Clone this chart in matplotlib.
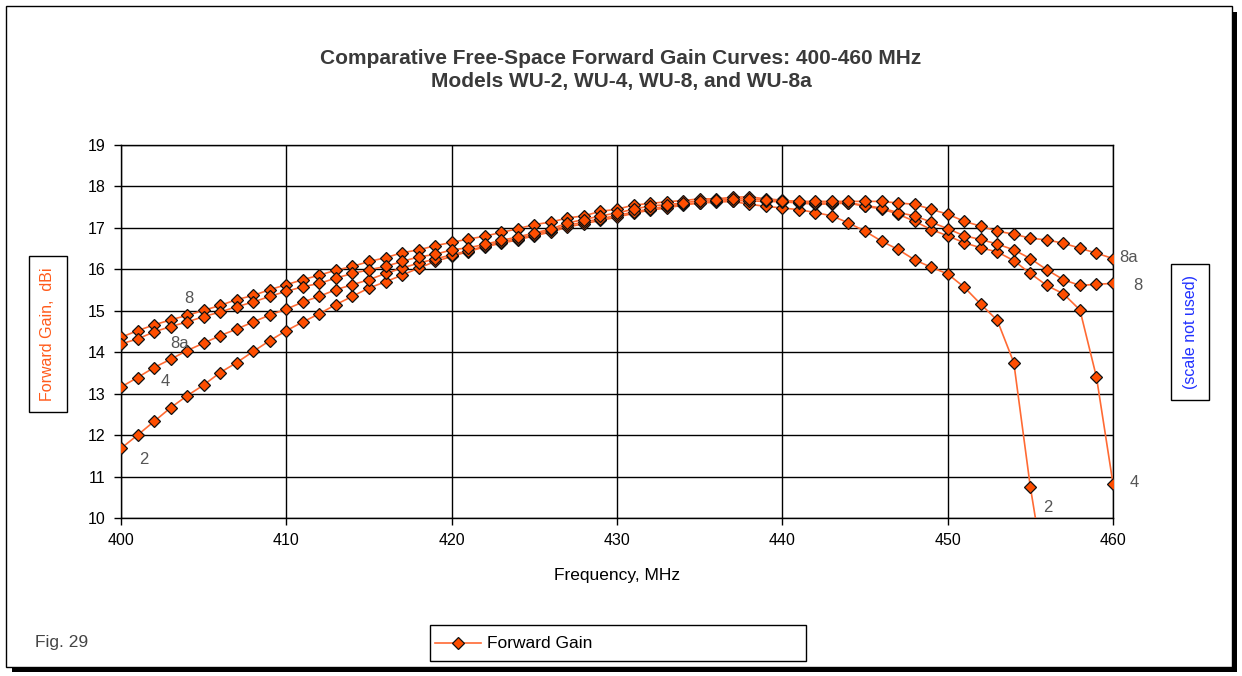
import numpy as np
import matplotlib
matplotlib.use("Agg")
import matplotlib.pyplot as plt
from matplotlib.patches import Rectangle
from matplotlib.lines import Line2D

plt.rcParams['font.family'] = ['Liberation Sans', 'DejaVu Sans']

# frequency steps, MHz
freq = list(range(400, 461))

# forward gain, dBi (WU-2 runs off the bottom after 456)
gain_2 = [11.68, 12.00, 12.33, 12.66, 12.95, 13.21, 13.51, 13.75, 14.02, 14.28,
          14.52, 14.73, 14.93, 15.15, 15.35, 15.55, 15.70, 15.86, 16.03, 16.19,
          16.31, 16.43, 16.54, 16.63, 16.71, 16.81, 16.90, 17.02, 17.10, 17.18,
          17.26, 17.35, 17.43, 17.48, 17.55, 17.60, 17.62, 17.64, 17.57, 17.52,
          17.48, 17.44, 17.37, 17.29, 17.12, 16.92, 16.68, 16.48, 16.23, 16.05,
          15.89, 15.57, 15.16, 14.77, 13.75, 10.75, 8.30]
gain_4 = [13.16, 13.39, 13.63, 13.83, 14.04, 14.22, 14.40, 14.56, 14.73, 14.90,
          15.04, 15.21, 15.35, 15.51, 15.63, 15.75, 15.90, 16.03, 16.15, 16.25,
          16.35, 16.45, 16.56, 16.66, 16.74, 16.84, 16.94, 17.06, 17.14, 17.22,
          17.30, 17.38, 17.46, 17.52, 17.57, 17.61, 17.64, 17.66, 17.65, 17.64,
          17.63, 17.60, 17.57, 17.58, 17.60, 17.52, 17.46, 17.33, 17.16, 16.96,
          16.81, 16.64, 16.52, 16.42, 16.21, 15.90, 15.61, 15.41, 15.02, 13.40,
          10.83]
gain_8 = [14.36, 14.52, 14.66, 14.78, 14.89, 15.01, 15.13, 15.27, 15.37, 15.51,
          15.63, 15.75, 15.86, 15.98, 16.07, 16.19, 16.28, 16.40, 16.47, 16.57,
          16.65, 16.73, 16.80, 16.89, 16.98, 17.08, 17.14, 17.24, 17.29, 17.40,
          17.45, 17.55, 17.59, 17.63, 17.66, 17.70, 17.70, 17.74, 17.75, 17.70,
          17.67, 17.63, 17.60, 17.60, 17.61, 17.54, 17.48, 17.37, 17.29, 17.14,
          16.98, 16.81, 16.72, 16.61, 16.47, 16.26, 15.99, 15.75, 15.61, 15.64,
          15.66]
gain_8a = [14.20, 14.32, 14.49, 14.62, 14.73, 14.86, 14.97, 15.10, 15.21, 15.35,
           15.47, 15.58, 15.66, 15.79, 15.90, 15.99, 16.07, 16.19, 16.30, 16.36,
           16.47, 16.52, 16.60, 16.70, 16.78, 16.88, 16.97, 17.12, 17.20, 17.29,
           17.36, 17.45, 17.53, 17.56, 17.60, 17.66, 17.68, 17.70, 17.70, 17.68,
           17.66, 17.64, 17.64, 17.64, 17.64, 17.64, 17.64, 17.60, 17.57, 17.45,
           17.33, 17.16, 17.04, 16.92, 16.85, 16.75, 16.71, 16.63, 16.51, 16.39,
           16.26]

curves = [gain_2, gain_4, gain_8, gain_8a]

# curve labels: text, frequency, gain
curve_labels = [("8", 403.8, 15.3), ("8a", 403.0, 14.2), ("4", 402.4, 13.3),
                ("2", 401.1, 11.4), ("8a", 460.4, 16.28), ("8", 461.2, 15.6),
                ("4", 461.0, 10.85), ("2", 455.8, 10.25)]

W, H = 1242, 676
fig = plt.figure(figsize=(W / 100, H / 100), dpi=100)

def fx(px):
    return px / W

def fy(py):
    return 1 - py / H

line_col = "#FF6A33"
face_col = "#FF4E00"

ax = fig.add_axes([fx(121), fy(518), fx(1113) - fx(121), fy(145) - fy(518)])
for g in curves:
    ax.plot(freq[:len(g)], g, color=line_col, lw=1.2, marker="D", ms=6.5,
            mfc=face_col, mec="#111111", mew=0.9, clip_on=True, zorder=3)

ax.set_xlim(400, 460)
ax.set_ylim(10, 19)
ax.set_xticks(range(400, 461, 10))
ax.set_yticks(range(10, 20))
ax.grid(True, color="black", lw=1.0)
ax.set_axisbelow(True)
for s in ax.spines.values():
    s.set_color("black")
    s.set_linewidth(1.0)
ax.tick_params(direction="out", length=5, width=1.0, colors="black",
               labelsize=11.5, pad=6)
ax.set_xlabel("Frequency, MHz", fontsize=12.5, labelpad=14)

for txt, x, y in curve_labels:
    ax.text(x, y, txt, fontsize=12, color="#555555", ha="left", va="center",
            clip_on=False)

# title
fig.text(0.5, fy(58), "Comparative Free-Space Forward Gain Curves: 400-460 MHz",
         ha="center", va="center", fontsize=15, fontweight="bold",
         color="#3a3a3a")
fig.text(0.5, fy(82), "Models WU-2, WU-4, WU-8, and WU-8a",
         ha="center", va="center", fontsize=15, fontweight="bold",
         color="#3a3a3a")

# boxed axis titles
fig.text(fx(48), fy(334), "Forward Gain,  dBi", rotation=90, ha="center",
         va="center", fontsize=11.5, color="#FF5A1A",
         bbox=dict(boxstyle="square,pad=0.7", fc="white", ec="black", lw=1.0))
fig.text(fx(1190), fy(332), "(scale not used)", rotation=90, ha="center",
         va="center", fontsize=11.5, color="#2030FF",
         bbox=dict(boxstyle="square,pad=0.7", fc="white", ec="black", lw=1.0))

fig.text(fx(35), fy(643), "Fig. 29", ha="left", va="center", fontsize=12.5,
         color="#444444")

# legend box
fig.patches.append(Rectangle((fx(430), fy(661)), fx(806) - fx(430),
                             fy(625) - fy(661), transform=fig.transFigure,
                             fill=False, ec="black", lw=1.0))
fig.lines.append(Line2D([fx(435), fx(481)], [fy(643), fy(643)],
                        transform=fig.transFigure, color=line_col, lw=1.2))
fig.lines.append(Line2D([fx(458)], [fy(643)], transform=fig.transFigure,
                        marker="D", ms=6.5, mfc=face_col, mec="#111111",
                        mew=0.9))
fig.text(fx(487), fy(643), "Forward Gain", ha="left", va="center",
         fontsize=12.5, color="black")

# outer frame with drop shadow
fig.patches.append(Rectangle((fx(1232), fy(672)), fx(5), fy(12) - fy(672),
                             transform=fig.transFigure, fc="black", ec="none"))
fig.patches.append(Rectangle((fx(12), fy(672)), fx(1225), fy(667) - fy(672),
                             transform=fig.transFigure, fc="black", ec="none"))
fig.patches.append(Rectangle((fx(6), fy(667)), fx(1226), fy(6) - fy(667),
                             transform=fig.transFigure, fill=False,
                             ec="black", lw=1.0))

fig.savefig("out.png", dpi=100)
